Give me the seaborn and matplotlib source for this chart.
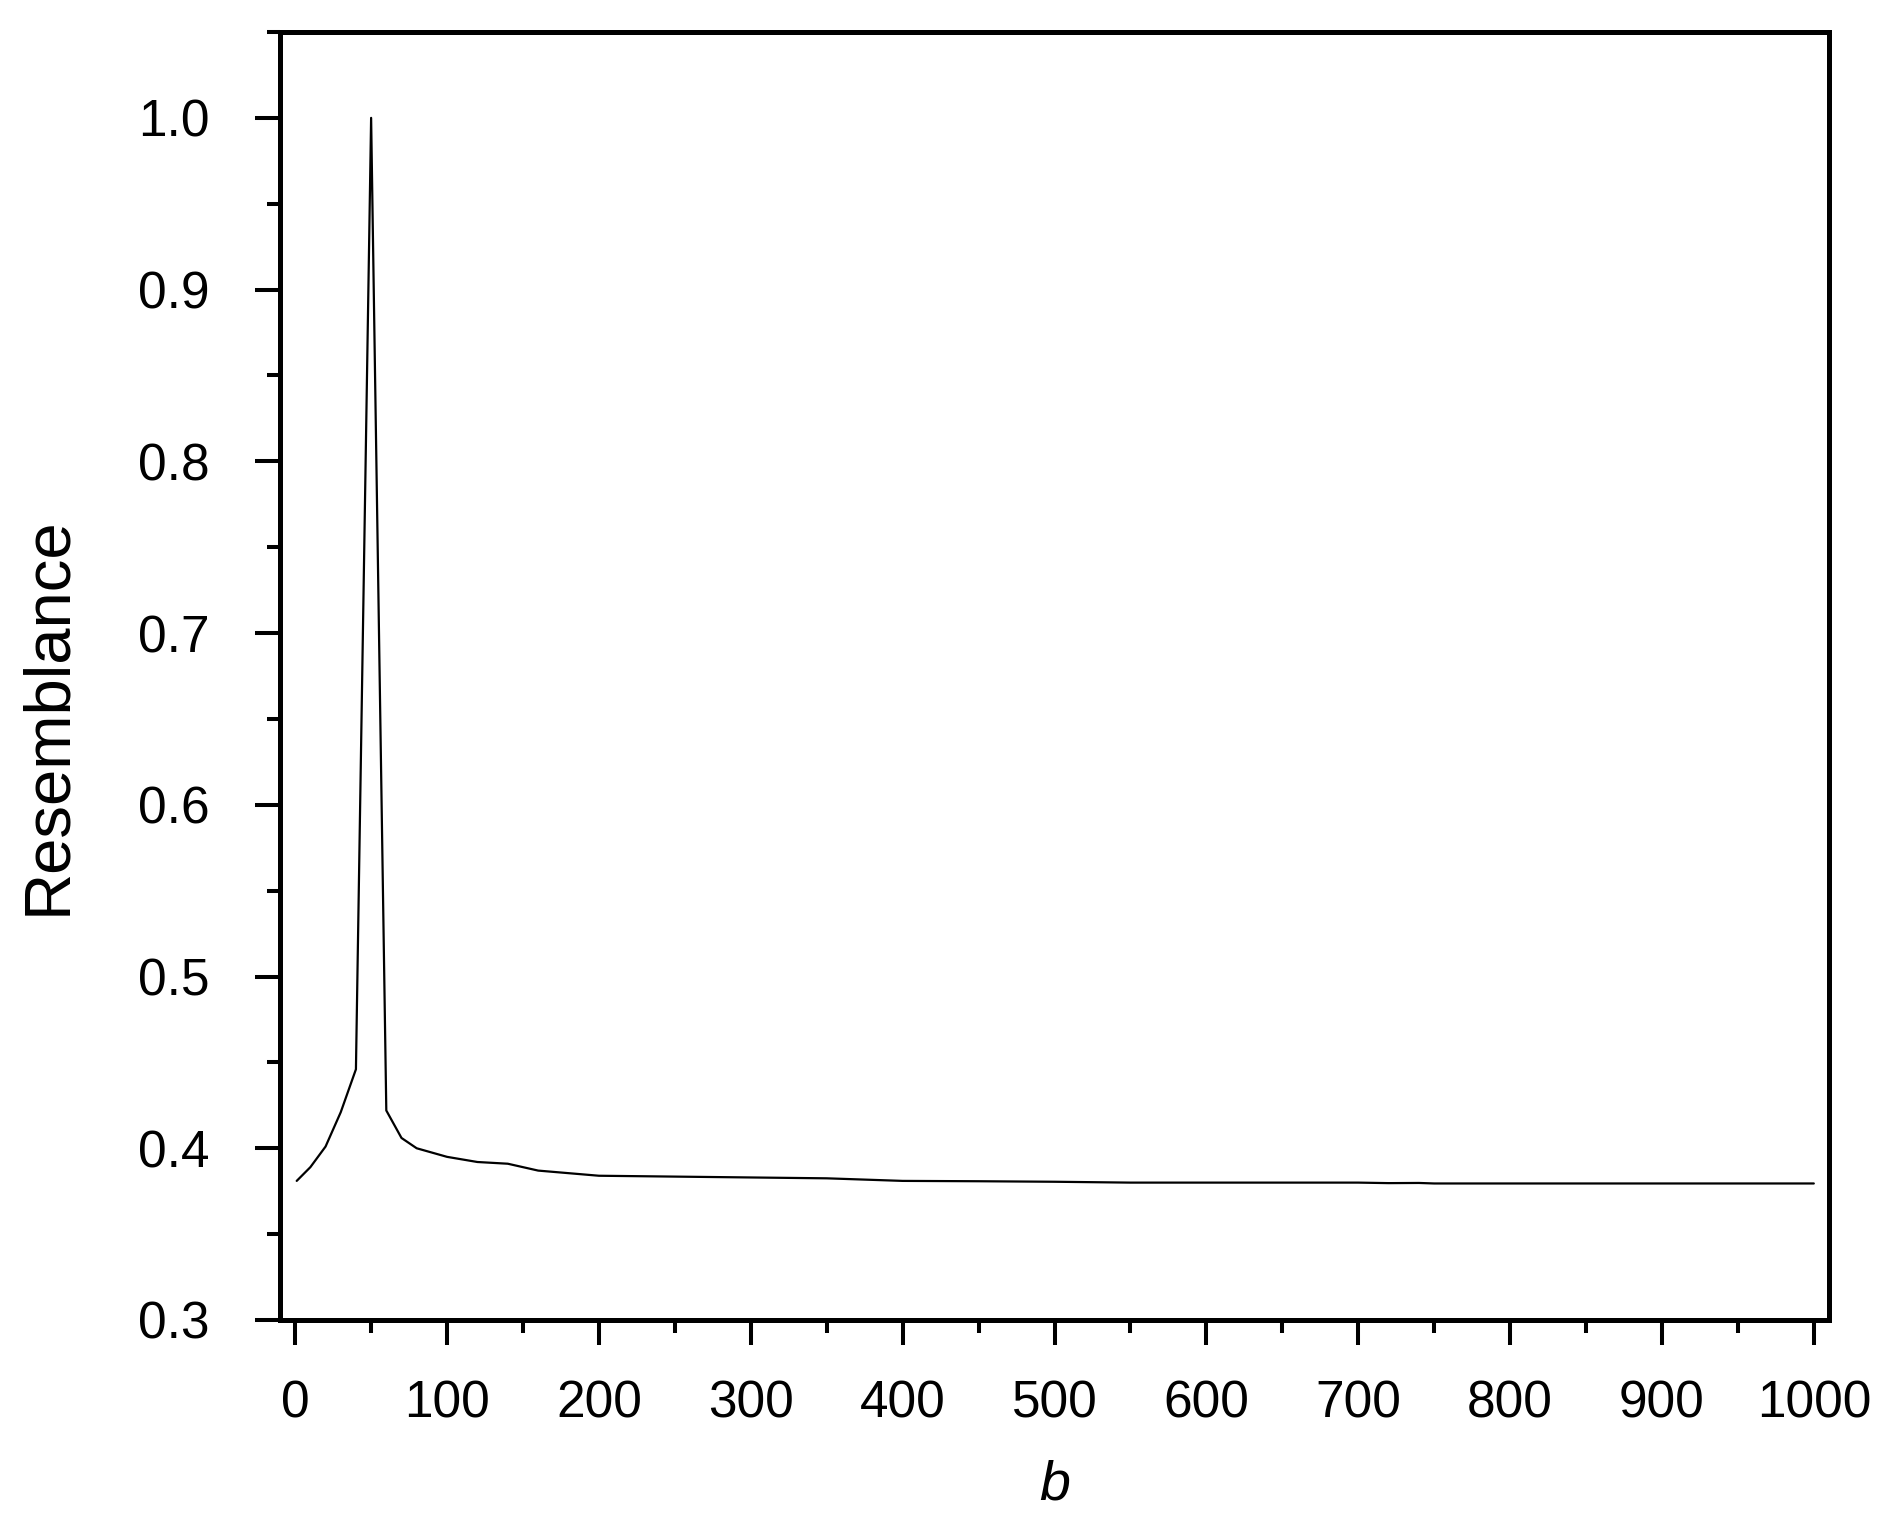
import matplotlib
matplotlib.use("Agg")
import matplotlib.pyplot as plt
from matplotlib.ticker import MultipleLocator
import seaborn as sns
import pandas as pd

b_values = [1, 10, 20, 30, 40, 50, 60, 70, 80, 100, 120, 140, 160, 180, 200,
            250, 300, 350, 400, 450, 500, 550, 600, 650, 700, 720, 740, 750,
            800, 850, 900, 950, 1000]
resemblance = [0.381, 0.389, 0.401, 0.421, 0.446, 1.0, 0.422, 0.406, 0.400,
               0.395, 0.392, 0.391, 0.387, 0.3855, 0.384, 0.3835, 0.383,
               0.3825, 0.381, 0.3808, 0.3805, 0.380, 0.380, 0.380, 0.380,
               0.3797, 0.3798, 0.3795, 0.3795, 0.3795, 0.3795, 0.3795, 0.3795]

df = pd.DataFrame({"b": b_values, "Resemblance": resemblance})

sns.set_style("ticks")
plt.rcParams["font.family"] = ["Liberation Sans", "DejaVu Sans"]
plt.rcParams["text.color"] = "black"
plt.rcParams["axes.labelcolor"] = "black"
plt.rcParams["xtick.color"] = "black"
plt.rcParams["ytick.color"] = "black"

fig = plt.figure(figsize=(18.84, 15.28), dpi=100)
ax = fig.add_axes([280 / 1884, 1 - 1320 / 1528, (1829 - 280) / 1884, (1320 - 32) / 1528])

sns.lineplot(data=df, x="b", y="Resemblance", ax=ax, color="black", linewidth=1.6)

ax.set_xlim(-10, 1010)
ax.set_ylim(0.3, 1.05)
ax.xaxis.set_major_locator(MultipleLocator(100))
ax.xaxis.set_minor_locator(MultipleLocator(50))
ax.yaxis.set_major_locator(MultipleLocator(0.1))
ax.yaxis.set_minor_locator(MultipleLocator(0.05))
ax.yaxis.set_major_formatter(matplotlib.ticker.FormatStrFormatter("%.1f"))

for s in ax.spines.values():
    s.set_linewidth(3.6)
    s.set_color("black")
    s.set_visible(True)

ax.tick_params(axis="both", which="major", length=18, width=2.9, direction="out",
               labelsize=37, color="black", labelcolor="black")
ax.tick_params(axis="both", which="minor", length=9.5, width=2.9, direction="out",
               color="black")
ax.tick_params(axis="x", which="major", pad=25)
ax.tick_params(axis="y", which="major", pad=33)

ax.set_xlabel("b", fontsize=40, style="italic", color="black")
ax.set_ylabel("Resemblance", fontsize=47, color="black")
ax.xaxis.set_label_coords(0.5, (1320 - 1486) / 1288)
ax.yaxis.set_label_coords((48 - 280) / 1549, (1320 - 716) / 1288)
ax.xaxis.label.set_verticalalignment("center")
ax.yaxis.label.set_verticalalignment("center")

fig.savefig("out.png", dpi=100, facecolor="white")
